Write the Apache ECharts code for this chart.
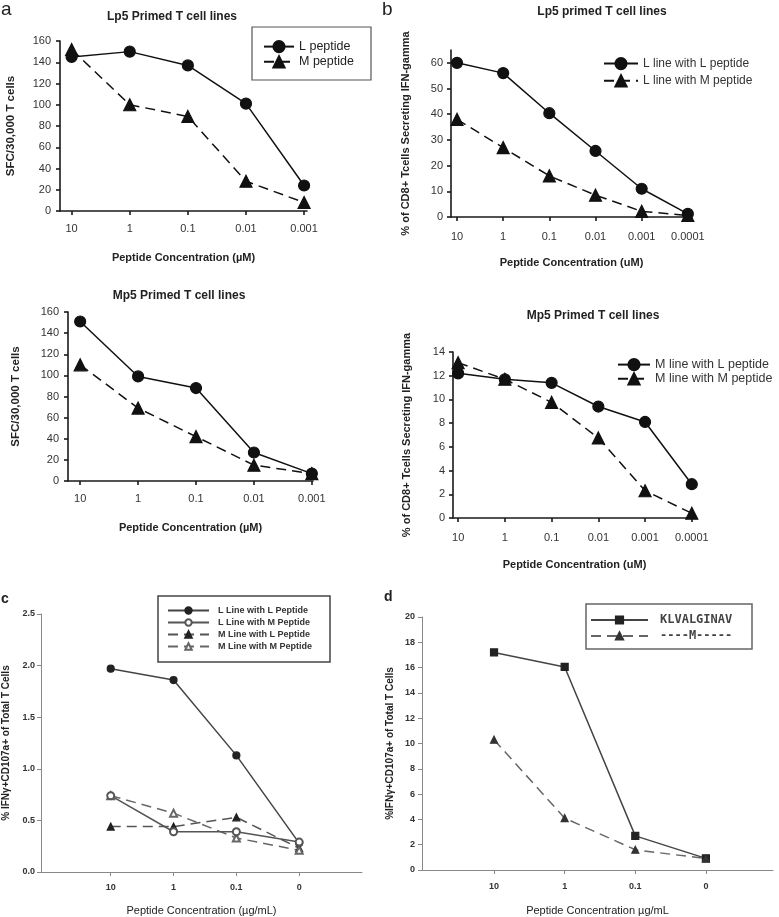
<!DOCTYPE html>
<html>
<head>
<meta charset="utf-8">
<script src="https://cdn.jsdelivr.net/npm/echarts@6/dist/echarts.min.js"></script>
<style>
html,body{margin:0;padding:0;background:#fff}
#main{width:779px;height:917px}
</style>
</head>
<body>
<div id="main"></div>
<script>
// x categories (peptide concentration)
var concA = ['10', '1', '0.1', '0.01', '0.001'];
var concB = ['10', '1', '0.1', '0.01', '0.001', '0.0001'];
var concCD = ['10', '1', '0.1', '0'];

// panel a : SFC/30,000 T cells
var aLp5L = [145, 150, 137, 101, 24];
var aLp5M = [152, 100, 89, 28, 8];
var aMp5L = [151, 99, 88, 27, 7];
var aMp5M = [110, 69, 42, 15, 7];

// panel b : % of CD8+ T cells secreting IFN-gamma
var bLp5L = [60, 56, 40.4, 25.7, 11, 1.2];
var bLp5M = [38, 27, 16, 8.5, 2.2, 0.6];
var bMp5L = [12.2, 11.7, 11.4, 9.4, 8.1, 2.85];
var bMp5M = [13.1, 11.7, 9.75, 6.75, 2.3, 0.4];

// panel c : % IFNg+CD107a+ of total T cells
var cLL = [1.97, 1.86, 1.13, 0.28];
var cLM = [0.74, 0.39, 0.39, 0.29];
var cML = [0.44, 0.44, 0.53, 0.23];
var cMM = [0.74, 0.57, 0.33, 0.21];

// panel d
var dKLV = [17.2, 16.05, 2.7, 0.92];
var dM = [10.3, 4.1, 1.6, 0.9];

// y tick values
var yTicksA = [0, 20, 40, 60, 80, 100, 120, 140, 160];
var yTicksB1 = [0, 10, 20, 30, 40, 50, 60];
var yTicksB2 = [0, 2, 4, 6, 8, 10, 12, 14];
var yTicksC = [0, 0.5, 1.0, 1.5, 2.0, 2.5];
var yTicksD = [0, 2, 4, 6, 8, 10, 12, 14, 16, 18, 20];

var FONT = 'Liberation Sans';

function pts(vals) {
    return vals.map(function (v, i) { return [i, v]; });
}
function idx(cats) {
    return cats.map(function (c, i) { return i; });
}

function xAx(grid, cats, min, max, o) {
    return {
        type: 'value', gridIndex: grid, min: min, max: max,
        name: o.name, nameLocation: 'middle', nameGap: o.nameGap,
        nameTextStyle: { fontFamily: FONT, fontSize: o.nameSize, fontWeight: o.nameWeight, color: '#222' },
        axisLine: { onZero: false, lineStyle: { color: o.color, width: o.width } },
        axisTick: { customValues: idx(cats), length: 4, lineStyle: { color: o.color, width: o.width } },
        axisLabel: {
            customValues: idx(cats), margin: o.margin,
            formatter: function (v) { return cats[Math.round(v)]; },
            fontFamily: FONT, fontSize: o.labelSize, fontWeight: o.labelWeight, color: '#333'
        },
        splitLine: { show: false }
    };
}
function yAx(grid, ticks, max, o) {
    return {
        type: 'value', gridIndex: grid, min: 0, max: max,
        name: o.name, nameLocation: 'middle', nameGap: o.nameGap,
        nameTextStyle: { fontFamily: FONT, fontSize: o.nameSize, fontWeight: 'bold', color: '#222' },
        axisLine: { show: true, onZero: false, lineStyle: { color: o.color, width: o.width } },
        axisTick: { show: true, customValues: ticks, length: 4, lineStyle: { color: o.color, width: o.width } },
        axisLabel: {
            customValues: ticks, margin: o.margin,
            formatter: o.fmt || function (v) { return String(v); },
            fontFamily: FONT, fontSize: o.labelSize, fontWeight: o.labelWeight, color: '#333'
        },
        splitLine: { show: false }
    };
}

var styleAB = { color: '#1a1a1a', width: 1.6, nameSize: 11, nameWeight: 'bold', labelSize: 11, labelWeight: 'normal' };
function ext(base, more) { var r = {}; for (var k in base) r[k] = base[k]; for (var k2 in more) r[k2] = more[k2]; return r; }

function lineSer(name, grid, vals, sym, size, dashed, col, lineCol) {
    return {
        type: 'line', name: name, xAxisIndex: grid, yAxisIndex: grid,
        data: pts(vals), symbol: sym, symbolSize: size,
        itemStyle: { color: col, borderColor: col, borderWidth: 1.2 },
        lineStyle: { color: lineCol || col, width: 1.5, type: dashed ? [10, 6] : 'solid' },
        animation: false
    };
}

var chart = echarts.init(document.getElementById('main'));
var option = {
    backgroundColor: '#fff',
    animation: false,
    title: [
        { text: 'Lp5 Primed T cell lines', left: 167, top: 6, textAlign: 'center', textStyle: { fontFamily: FONT, fontSize: 12, fontWeight: 'bold', color: '#222' } },
        { text: 'Mp5 Primed T cell lines', left: 174, top: 285, textAlign: 'center', textStyle: { fontFamily: FONT, fontSize: 12, fontWeight: 'bold', color: '#222' } },
        { text: 'Lp5 primed T cell lines', left: 597, top: 1, textAlign: 'center', textStyle: { fontFamily: FONT, fontSize: 12, fontWeight: 'bold', color: '#222' } },
        { text: 'Mp5 Primed T cell lines', left: 588, top: 305, textAlign: 'center', textStyle: { fontFamily: FONT, fontSize: 12, fontWeight: 'bold', color: '#222' } }
    ],
    grid: [
        { left: 60, top: 41, width: 247, height: 170 },
        { left: 68, top: 312, width: 245, height: 169 },
        { left: 451, top: 50, width: 241, height: 167 },
        { left: 453, top: 352, width: 243, height: 166 },
        { left: 40, top: 614, width: 322, height: 259 },
        { left: 422, top: 617, width: 351, height: 254 }
    ],
    xAxis: [
        xAx(0, concA, -0.2, 4.05, ext(styleAB, { name: 'Peptide Concentration (\u00b5M)', nameGap: 41, margin: 12 })),
        xAx(1, concA, -0.21, 4.02, ext(styleAB, { name: 'Peptide Concentration (\u00b5M)', nameGap: 41, margin: 12 })),
        xAx(2, concB, -0.13, 5.09, ext(styleAB, { name: 'Peptide Concentration (uM)', nameGap: 40, margin: 14 })),
        xAx(3, concB, -0.11, 5.09, ext(styleAB, { name: 'Peptide Concentration (uM)', nameGap: 41, margin: 14 })),
        xAx(4, concCD, -1.11, 4.0, { color: '#888', width: 1, name: 'Peptide Concentration (\u00b5g/mL)', nameGap: 33, nameSize: 11, nameWeight: 'normal', margin: 11, labelSize: 9, labelWeight: 'bold' }),
        xAx(5, concCD, -1.02, 3.95, { color: '#888', width: 1, name: 'Peptide Concentration \u00b5g/mL', nameGap: 35, nameSize: 11, nameWeight: 'normal', margin: 12, labelSize: 9, labelWeight: 'bold' })
    ],
    yAxis: [
        yAx(0, yTicksA, 160, ext(styleAB, { name: 'SFC/30,000 T cells', nameGap: 43, margin: 9, nameSize: 11.5 })),
        yAx(1, yTicksA, 160, ext(styleAB, { name: 'SFC/30,000 T cells', nameGap: 46, margin: 9, nameSize: 11.5 })),
        yAx(2, yTicksB1, 65, ext(styleAB, { name: '% of CD8+ Tcells Secreting IFN-gamma', nameGap: 40, margin: 8 })),
        yAx(3, yTicksB2, 14, ext(styleAB, { name: '% of CD8+ Tcells Secreting IFN-gamma', nameGap: 41, margin: 8 })),
        yAx(4, yTicksC, 2.5, { color: '#888', width: 1, name: '% IFN\u03b3+CD107a+ of Total T Cells', nameGap: 30, nameSize: 10, margin: 6, labelSize: 9, labelWeight: 'bold', fmt: function (v) { return v.toFixed(1); } }),
        yAx(5, yTicksD, 20, { color: '#888', width: 1, name: '%IFN\u03b3+CD107a+ of Total T Cells', nameGap: 27, nameSize: 10, margin: 7, labelSize: 9, labelWeight: 'bold' })
    ],
    legend: [
        {
            data: ['L peptide', 'M peptide'], orient: 'vertical', left: 263, top: 40,
            itemWidth: 30, itemHeight: 14, itemGap: 2, padding: 0,
            textStyle: { fontFamily: FONT, fontSize: 12.5, color: '#222' }
        },
        {
            data: ['L line with L peptide', 'L line with M peptide'], orient: 'vertical', left: 603, top: 57,
            itemWidth: 34, itemHeight: 14, itemGap: 4, padding: 0,
            textStyle: { fontFamily: FONT, fontSize: 12, color: '#333' }
        },
        {
            data: ['M line with L peptide', 'M line with M peptide'], orient: 'vertical', left: 617, top: 358,
            itemWidth: 32, itemHeight: 14, itemGap: 1, padding: 0,
            textStyle: { fontFamily: FONT, fontSize: 12.5, color: '#333' }
        },
        {
            data: ['L Line with L Peptide', 'L Line with M Peptide', 'M Line with L Peptide', 'M Line with M Peptide'],
            orient: 'vertical', left: 167, top: 606, itemWidth: 41, itemHeight: 8, itemGap: 3, padding: 0,
            textStyle: { fontFamily: FONT, fontSize: 9, fontWeight: 'bold', color: '#333', padding: [0, 0, 0, 4] }
        },
        {
            data: ['KLVALGINAV', '----M-----'], orient: 'vertical', left: 590, top: 614,
            itemWidth: 57, itemHeight: 9, itemGap: 4, padding: 0,
            textStyle: { fontFamily: 'DejaVu Sans Mono', fontSize: 12, fontWeight: 'bold', color: '#444', padding: [0, 0, 0, 7] }
        }
    ],
    graphic: [
        { type: 'rect', shape: { x: 252, y: 27, width: 119, height: 53 }, style: { fill: 'none', stroke: '#555', lineWidth: 1.2 } },
        { type: 'rect', shape: { x: 158, y: 596, width: 172, height: 66 }, style: { fill: 'none', stroke: '#444', lineWidth: 1.5 } },
        { type: 'rect', shape: { x: 586, y: 604, width: 166, height: 45 }, style: { fill: 'none', stroke: '#666', lineWidth: 1.5 } },
        { type: 'text', left: 1, top: 0, style: { text: 'a', font: '19px "Liberation Sans"', fill: '#222' } },
        { type: 'text', left: 382, top: 0, style: { text: 'b', font: '19px "Liberation Sans"', fill: '#222' } },
        { type: 'text', left: 1, top: 592, style: { text: 'c', font: 'bold 14px "Liberation Sans"', fill: '#222' } },
        { type: 'text', left: 384, top: 590, style: { text: 'd', font: 'bold 14px "Liberation Sans"', fill: '#222' } }
    ],
    series: [
        lineSer('L peptide', 0, aLp5L, 'circle', 11, false, '#111'),
        lineSer('M peptide', 0, aLp5M, 'triangle', 12, true, '#111'),
        lineSer('Mp5 L peptide', 1, aMp5L, 'circle', 11, false, '#111'),
        lineSer('Mp5 M peptide', 1, aMp5M, 'triangle', 12, true, '#111'),
        lineSer('L line with L peptide', 2, bLp5L, 'circle', 11, false, '#111'),
        lineSer('L line with M peptide', 2, bLp5M, 'triangle', 12, true, '#111'),
        lineSer('M line with L peptide', 3, bMp5L, 'circle', 11, false, '#111'),
        lineSer('M line with M peptide', 3, bMp5M, 'triangle', 12, true, '#111'),
        lineSer('L Line with L Peptide', 4, cLL, 'circle', 7, false, '#222', '#444'),
        lineSer('M Line with L Peptide', 4, cML, 'triangle', 7, true, '#222', '#555'),
        lineSer('M Line with M Peptide', 4, cMM, 'emptyTriangle', 7, true, '#666', '#666'),
        lineSer('L Line with M Peptide', 4, cLM, 'emptyCircle', 7, false, '#555', '#555'),
        lineSer('KLVALGINAV', 5, dKLV, 'rect', 7, false, '#222', '#444'),
        lineSer('----M-----', 5, dM, 'triangle', 7, true, '#333', '#666')
    ]
};
chart.setOption(option);
</script>
</body>
</html>
